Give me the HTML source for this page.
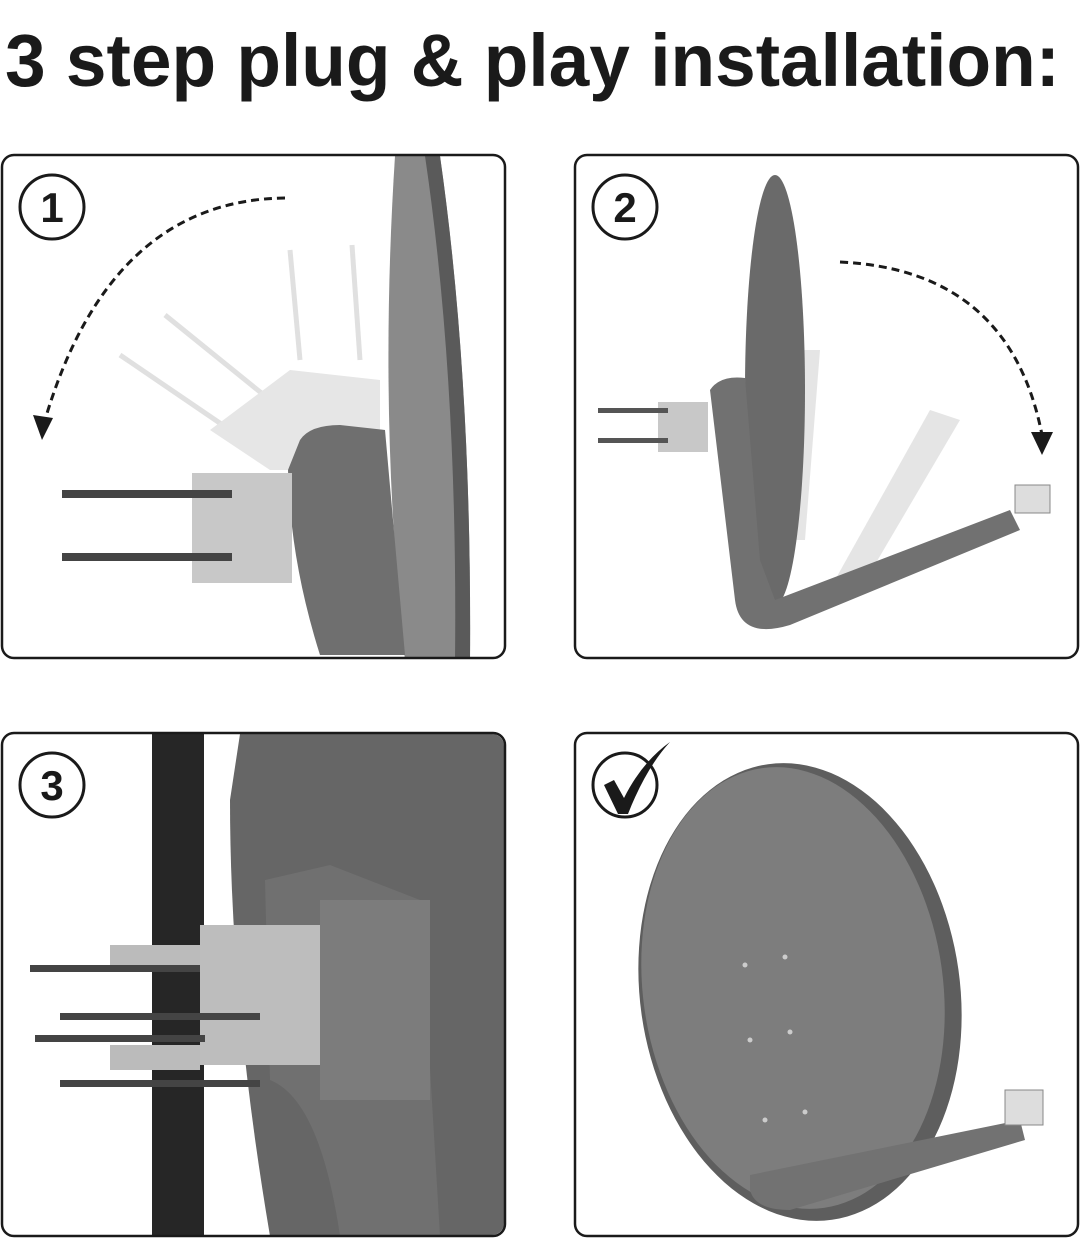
<!DOCTYPE html>
<html><head><meta charset="utf-8"><style>
html,body{margin:0;padding:0;background:#fff;width:1080px;height:1241px;overflow:hidden}
</style></head><body>
<svg width="1080" height="1241" viewBox="0 0 1080 1241" xmlns="http://www.w3.org/2000/svg" font-family="Liberation Sans, sans-serif">
<text x="5" y="86" font-size="74" font-weight="bold" fill="#1a1a1a" textLength="1055" lengthAdjust="spacingAndGlyphs">3 step plug &amp; play installation:</text>

<defs>
<clipPath id="c1"><rect x="3" y="156" width="501" height="501" rx="12"/></clipPath>
<clipPath id="c2"><rect x="576" y="156" width="501" height="501" rx="12"/></clipPath>
<clipPath id="c3"><rect x="3" y="734" width="501" height="501" rx="12"/></clipPath>
<clipPath id="c4"><rect x="576" y="734" width="501" height="501" rx="12"/></clipPath>
</defs>

<!-- Panel 1 -->
<g clip-path="url(#c1)">
 <g opacity="0.25" stroke="#888" stroke-width="5" fill="none">
  <line x1="120" y1="355" x2="230" y2="430"/><line x1="165" y1="315" x2="270" y2="400"/>
  <line x1="290" y1="250" x2="300" y2="360"/><line x1="352" y1="245" x2="360" y2="360"/>
 </g>
 <path d="M210 430 L290 370 L380 380 L380 470 L270 470 Z" fill="#e6e6e6"/>
 <path d="M395 156 L440 156 Q472 380 470 660 L405 660 Q378 420 395 156 Z" fill="#8a8a8a"/>
 <path d="M425 156 L440 156 Q472 380 470 660 L455 660 Q458 380 425 156 Z" fill="#5a5a5a"/>
 <path d="M300 440 Q310 425 340 425 L385 430 L405 655 L320 655 Q290 560 288 470 Z" fill="#6f6f6f"/>
 <rect x="192" y="473" width="100" height="110" fill="#c8c8c8"/>
 <rect x="62" y="490" width="170" height="8" fill="#444"/>
 <rect x="62" y="553" width="170" height="8" fill="#444"/>
</g>
<rect x="2" y="155" width="503" height="503" rx="12" fill="none" stroke="#1a1a1a" stroke-width="2.5"/>
<circle cx="52" cy="207" r="32" fill="#fff" stroke="#1a1a1a" stroke-width="3"/>
<text x="52" y="222" font-size="42" font-weight="bold" text-anchor="middle" fill="#1a1a1a">1</text>
<path d="M285 198 Q110 200 45 420" fill="none" stroke="#1a1a1a" stroke-width="3" stroke-dasharray="8,5"/>
<path d="M33 415 L42 440 L53 418 Z" fill="#1a1a1a"/>

<!-- Panel 2 -->
<g clip-path="url(#c2)">
 <g opacity="0.3" fill="#aaa">
  <path d="M800 350 L820 350 L805 540 L790 540 Z"/>
  <path d="M930 410 L960 420 L860 590 L835 580 Z"/>
 </g>
 <ellipse cx="775" cy="390" rx="30" ry="215" fill="#6a6a6a"/>
 <path d="M710 390 Q720 375 745 378 L760 560 L775 600 L1010 510 L1020 530 L790 625 Q740 640 735 600 Z" fill="#717171"/>
 <rect x="658" y="402" width="50" height="50" fill="#c8c8c8"/>
 <rect x="598" y="408" width="70" height="5" fill="#555"/>
 <rect x="598" y="438" width="70" height="5" fill="#555"/>
 <rect x="1015" y="485" width="35" height="28" fill="#ddd" stroke="#888"/>
</g>
<rect x="575" y="155" width="503" height="503" rx="12" fill="none" stroke="#1a1a1a" stroke-width="2.5"/>
<circle cx="625" cy="207" r="32" fill="#fff" stroke="#1a1a1a" stroke-width="3"/>
<text x="625" y="222" font-size="42" font-weight="bold" text-anchor="middle" fill="#1a1a1a">2</text>
<path d="M840 262 Q1010 270 1042 435" fill="none" stroke="#1a1a1a" stroke-width="3" stroke-dasharray="8,5"/>
<path d="M1031 432 L1042 455 L1053 432 Z" fill="#1a1a1a"/>

<!-- Panel 3 -->
<g clip-path="url(#c3)">
 <path d="M240 734 L505 734 L505 1236 L270 1236 Q230 1000 230 800 Z" fill="#666"/>
 <rect x="152" y="734" width="52" height="502" fill="#262626"/>
 <path d="M265 880 L330 865 L420 900 L440 1236 L340 1236 Q320 1100 270 1080 Z" fill="#707070"/>
 <rect x="200" y="925" width="120" height="140" fill="#bdbdbd"/>
 <rect x="320" y="900" width="110" height="200" fill="#7c7c7c"/>
 <rect x="110" y="945" width="90" height="25" fill="#bbb"/>
 <rect x="110" y="1045" width="90" height="25" fill="#bbb"/>
 <rect x="30" y="965" width="170" height="7" fill="#444"/>
 <rect x="60" y="1013" width="200" height="7" fill="#444"/>
 <rect x="35" y="1035" width="170" height="7" fill="#444"/>
 <rect x="60" y="1080" width="200" height="7" fill="#444"/>
</g>
<rect x="2" y="733" width="503" height="503" rx="12" fill="none" stroke="#1a1a1a" stroke-width="2.5"/>
<circle cx="52" cy="785" r="32" fill="#fff" stroke="#1a1a1a" stroke-width="3"/>
<text x="52" y="800" font-size="42" font-weight="bold" text-anchor="middle" fill="#1a1a1a">3</text>

<!-- Panel 4 -->
<g clip-path="url(#c4)">
 <ellipse cx="800" cy="992" rx="160" ry="230" fill="#5e5e5e" transform="rotate(-8 800 992)"/>
 <ellipse cx="793" cy="988" rx="150" ry="222" fill="#7d7d7d" transform="rotate(-8 793 988)"/>
 <path d="M750 1175 L1020 1120 L1025 1140 L790 1210 Q755 1210 750 1190 Z" fill="#727272"/>
 <rect x="1005" y="1090" width="38" height="35" fill="#ddd" stroke="#888"/>
 <g fill="#ccc"><circle cx="745" cy="965" r="2.5"/><circle cx="785" cy="957" r="2.5"/><circle cx="750" cy="1040" r="2.5"/><circle cx="790" cy="1032" r="2.5"/><circle cx="765" cy="1120" r="2.5"/><circle cx="805" cy="1112" r="2.5"/></g>
</g>
<rect x="575" y="733" width="503" height="503" rx="12" fill="none" stroke="#1a1a1a" stroke-width="2.5"/>
<circle cx="625" cy="785" r="32" fill="#fff" stroke="#1a1a1a" stroke-width="3"/>
<path d="M604 785 L614 780 L624 798 Q642 762 670 742 Q646 768 628 814 L618 814 Z" fill="#1a1a1a"/>
</svg>
</body></html>
